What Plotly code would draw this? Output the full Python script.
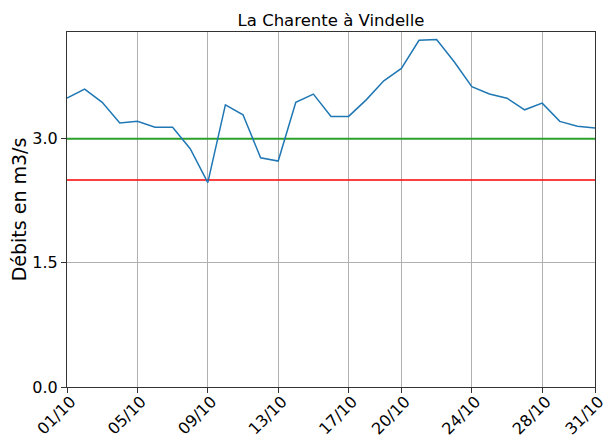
import plotly.graph_objects as go

days = list(range(1, 32))
debits = [3.49, 3.60, 3.44, 3.19, 3.21, 3.14, 3.14, 2.88, 2.47, 3.41,
          3.29, 2.77, 2.73, 3.44, 3.54, 3.27, 3.27, 3.47, 3.70, 3.85,
          4.19, 4.20, 3.93, 3.63, 3.54, 3.49, 3.35, 3.43, 3.21, 3.15, 3.13]
seuil_vert = 3.0
seuil_rouge = 2.5
tick_days = [1, 5, 9, 13, 17, 20, 24, 28, 31]
tick_labels = ["01/10", "05/10", "09/10", "13/10", "17/10", "20/10", "24/10", "28/10", "31/10"]
y_ticks = [0.0, 1.5, 3.0]
y_labels = ["0.0", "1.5", "3.0"]

fig = go.Figure()
fig.add_trace(go.Scatter(x=[days[0], days[-1]], y=[seuil_vert, seuil_vert], mode="lines",
                         line=dict(color="#2ca02c", width=2), showlegend=False, hoverinfo="skip"))
fig.add_trace(go.Scatter(x=[days[0], days[-1]], y=[seuil_rouge, seuil_rouge], mode="lines",
                         line=dict(color="#ff0000", width=1.5), showlegend=False, hoverinfo="skip"))
fig.add_trace(go.Scatter(x=days, y=debits, mode="lines",
                         line=dict(color="#1f77b4", width=1.5), showlegend=False))

fig.update_layout(
    width=614, height=437,
    margin=dict(l=67, r=19, t=32, b=50, autoexpand=False),
    paper_bgcolor="white", plot_bgcolor="white",
    font=dict(family="DejaVu Sans", size=16, color="black"),
    title=dict(text="La Charente à Vindelle", x=331 / 614, xanchor="center",
               y=1 - 20 / 437, yanchor="middle", font=dict(size=16.5)),
)
fig.update_xaxes(range=[1, 31], tickvals=tick_days, ticktext=tick_labels, tickangle=-45,
                 automargin=False, ticklabelstandoff=-7, ticklabelshift=4,
                 showgrid=True, gridcolor="#b0b0b0", gridwidth=0.8,
                 showline=True, linecolor="#333333", linewidth=1, mirror=True,
                 ticks="outside", ticklen=5, tickcolor="#333333", zeroline=False)
fig.update_yaxes(range=[0, 4.29], tickvals=y_ticks, ticktext=y_labels,
                 automargin=False,
                 title=dict(text="Débits en m3/s", standoff=0),
                 showgrid=True, gridcolor="#b0b0b0", gridwidth=0.8,
                 showline=True, linecolor="#333333", linewidth=1, mirror=True,
                 ticks="outside", ticklen=5, tickcolor="#333333", zeroline=False)

fig.write_html("out.html", config={"displayModeBar": False},
               post_script="document.body.style.margin='0px';document.body.style.overflow='hidden';")
